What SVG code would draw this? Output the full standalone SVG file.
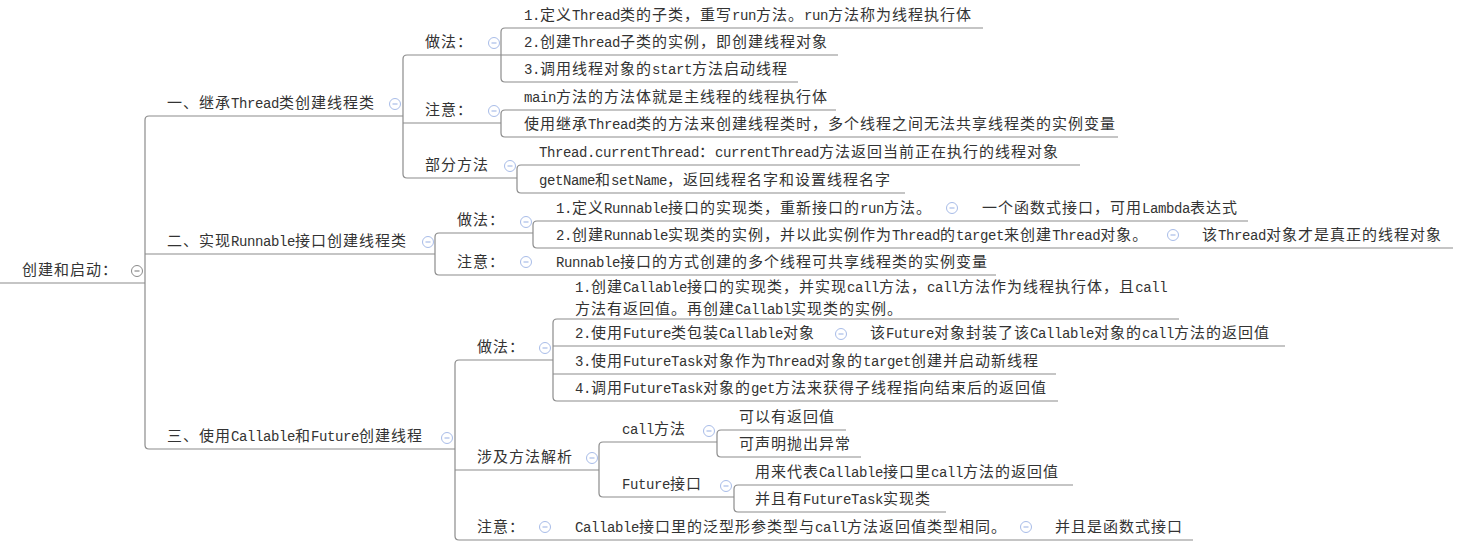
<svg xmlns="http://www.w3.org/2000/svg" width="1461" height="548" viewBox="0 0 1461 548">
<defs>
<style>
.t{font-family:"Noto Sans CJK SC","Noto Sans CJK JP",sans-serif;font-size:15px;letter-spacing:1px;fill:#333}
.e{font-family:"Liberation Mono","DejaVu Sans Mono",monospace;font-size:14px;letter-spacing:-0.4px}
.ln{fill:none;stroke:#8c8c8c;stroke-width:1.2}
</style>
<g id="tog"><circle r="5.5" fill="#fff" stroke="#a8bce8" stroke-width="1"/><line x1="-2.5" y1="0" x2="2.5" y2="0" stroke="#a8bce8" stroke-width="1.2"/></g>
<g id="togr"><circle r="5.5" fill="#fff" stroke="#8a8a8a" stroke-width="1"/><line x1="-2.5" y1="0" x2="2.5" y2="0" stroke="#8a8a8a" stroke-width="1.2"/></g>
</defs>
<rect width="1461" height="548" fill="#fff"/>

<g id="connectors">
<path class="ln" d="M0 283H145"/>
<path class="ln" d="M149 116Q145 116 145 120V445Q145 449 149 449"/>
<path class="ln" d="M149 116H403M145 254H435M149 449H455"/>
<path class="ln" d="M407 55Q403 55 403 59V174Q403 178 407 178"/>
<path class="ln" d="M407 55H501M403 123H501M407 178H517"/>
<path class="ln" d="M505 28Q501 28 501 32V78Q501 82 505 82"/>
<path class="ln" d="M505 28H983M501 55H838M505 82H798"/>
<path class="ln" d="M505 110Q501 110 501 114V133Q501 137 505 137"/>
<path class="ln" d="M505 110H836M505 137H1118"/>
<path class="ln" d="M521 165Q517 165 517 169V189Q517 193 521 193"/>
<path class="ln" d="M521 165H1080M521 193H905"/>
<path class="ln" d="M439 233Q435 233 435 237V271Q435 275 439 275"/>
<path class="ln" d="M439 233H533M439 275H996"/>
<path class="ln" d="M537 221Q533 221 533 225V244Q533 248 537 248"/>
<path class="ln" d="M537 221H1248M537 248H1453"/>
<path class="ln" d="M459 360Q455 360 455 364V536Q455 540 459 540"/>
<path class="ln" d="M459 360H553M455 470H599M459 540H1193"/>
<path class="ln" d="M557 319Q553 319 553 323V397Q553 401 557 401"/>
<path class="ln" d="M557 319H1179M553 346H1285M553 374H1056M557 401H1058"/>
<path class="ln" d="M603 442Q599 442 599 446V493Q599 497 603 497"/>
<path class="ln" d="M603 442H717M603 497H734"/>
<path class="ln" d="M721 430Q717 430 717 434V453Q717 457 721 457"/>
<path class="ln" d="M721 430H846M721 457H861"/>
<path class="ln" d="M738 485Q734 485 734 489V508Q734 512 738 512"/>
<path class="ln" d="M738 485H1073M738 512H946"/>
</g>

<g id="root"><text class="t" x="22" y="275">创建和启动：</text><use href="#togr" x="137" y="271"/></g>

<g id="n1"><text class="t" x="167" y="108">一、继承<tspan class="e">Thread</tspan>类创建线程类</text><use href="#tog" x="395" y="104"/></g>
<g id="n1-do"><text class="t" x="425" y="47">做法：</text><use href="#tog" x="494" y="43"/></g>
<g id="n1-do-1"><text class="t" x="524" y="20"><tspan class="e">1.</tspan>定义<tspan class="e">Thread</tspan>类的子类，重写<tspan class="e">run</tspan>方法。<tspan class="e">run</tspan>方法称为线程执行体</text></g>
<g id="n1-do-2"><text class="t" x="524" y="47"><tspan class="e">2.</tspan>创建<tspan class="e">Thread</tspan>子类的实例，即创建线程对象</text></g>
<g id="n1-do-3"><text class="t" x="524" y="74"><tspan class="e">3.</tspan>调用线程对象的<tspan class="e">start</tspan>方法启动线程</text></g>
<g id="n1-note"><text class="t" x="425" y="115">注意：</text><use href="#tog" x="494" y="111"/></g>
<g id="n1-note-1"><text class="t" x="524" y="102"><tspan class="e">main</tspan>方法的方法体就是主线程的线程执行体</text></g>
<g id="n1-note-2"><text class="t" x="524" y="129">使用继承<tspan class="e">Thread</tspan>类的方法来创建线程类时，多个线程之间无法共享线程类的实例变量</text></g>
<g id="n1-methods"><text class="t" x="425" y="170">部分方法</text><use href="#tog" x="510" y="166"/></g>
<g id="n1-methods-1"><text class="t" x="539" y="157"><tspan class="e">Thread.currentThread</tspan>：<tspan class="e">currentThread</tspan>方法返回当前正在执行的线程对象</text></g>
<g id="n1-methods-2"><text class="t" x="539" y="185"><tspan class="e">getName</tspan>和<tspan class="e">setName</tspan>，返回线程名字和设置线程名字</text></g>

<g id="n2"><text class="t" x="167" y="246">二、实现<tspan class="e">Runnable</tspan>接口创建线程类</text><use href="#tog" x="428" y="242"/></g>
<g id="n2-do"><text class="t" x="457" y="225">做法：</text><use href="#tog" x="526" y="222"/></g>
<g id="n2-do-1"><text class="t" x="556" y="213"><tspan class="e">1.</tspan>定义<tspan class="e">Runnable</tspan>接口的实现类，重新接口的<tspan class="e">run</tspan>方法。</text><use href="#tog" x="952" y="208"/></g>
<g id="n2-do-1a"><text class="t" x="982" y="213">一个函数式接口，可用<tspan class="e">Lambda</tspan>表达式</text></g>
<g id="n2-do-2"><text class="t" x="556" y="240"><tspan class="e">2.</tspan>创建<tspan class="e">Runnable</tspan>实现类的实例，并以此实例作为<tspan class="e">Thread</tspan>的<tspan class="e">target</tspan>来创建<tspan class="e">Thread</tspan>对象。</text><use href="#tog" x="1173" y="235"/></g>
<g id="n2-do-2a"><text class="t" x="1202" y="240">该<tspan class="e">Thread</tspan>对象才是真正的线程对象</text></g>
<g id="n2-note"><text class="t" x="457" y="267">注意：</text><use href="#tog" x="526" y="262"/></g>
<g id="n2-note-1"><text class="t" x="556" y="267"><tspan class="e">Runnable</tspan>接口的方式创建的多个线程可共享线程类的实例变量</text></g>

<g id="n3"><text class="t" x="167" y="441">三、使用<tspan class="e">Callable</tspan>和<tspan class="e">Future</tspan>创建线程</text><use href="#tog" x="447" y="438"/></g>
<g id="n3-do"><text class="t" x="477" y="352">做法：</text><use href="#tog" x="545" y="348"/></g>
<g id="n3-do-1"><text class="t" x="575" y="292"><tspan class="e">1.</tspan>创建<tspan class="e">Callable</tspan>接口的实现类，并实现<tspan class="e">call</tspan>方法，<tspan class="e">call</tspan>方法作为线程执行体，且<tspan class="e">call</tspan><tspan x="575" y="314">方法有返回值。再创建</tspan><tspan class="e">Callabl</tspan>实现类的实例。</text></g>
<g id="n3-do-2"><text class="t" x="575" y="338"><tspan class="e">2.</tspan>使用<tspan class="e">Future</tspan>类包装<tspan class="e">Callable</tspan>对象</text><use href="#tog" x="841" y="334"/></g>
<g id="n3-do-2a"><text class="t" x="870" y="338">该<tspan class="e">Future</tspan>对象封装了该<tspan class="e">Callable</tspan>对象的<tspan class="e">call</tspan>方法的返回值</text></g>
<g id="n3-do-3"><text class="t" x="575" y="366"><tspan class="e">3.</tspan>使用<tspan class="e">FutureTask</tspan>对象作为<tspan class="e">Thread</tspan>对象的<tspan class="e">target</tspan>创建并启动新线程</text></g>
<g id="n3-do-4"><text class="t" x="575" y="393"><tspan class="e">4.</tspan>调用<tspan class="e">FutureTask</tspan>对象的<tspan class="e">get</tspan>方法来获得子线程指向结束后的返回值</text></g>
<g id="n3-methods"><text class="t" x="477" y="462">涉及方法解析</text><use href="#tog" x="592" y="458"/></g>
<g id="n3-call"><text class="t" x="622" y="434"><tspan class="e">call</tspan>方法</text><use href="#tog" x="709" y="431"/></g>
<g id="n3-call-1"><text class="t" x="739" y="422">可以有返回值</text></g>
<g id="n3-call-2"><text class="t" x="739" y="449">可声明抛出异常</text></g>
<g id="n3-future"><text class="t" x="622" y="489"><tspan class="e">Future</tspan>接口</text><use href="#tog" x="726" y="486"/></g>
<g id="n3-future-1"><text class="t" x="755" y="477">用来代表<tspan class="e">Callable</tspan>接口里<tspan class="e">call</tspan>方法的返回值</text></g>
<g id="n3-future-2"><text class="t" x="755" y="504">并且有<tspan class="e">FutureTask</tspan>实现类</text></g>
<g id="n3-note"><text class="t" x="477" y="532">注意：</text><use href="#tog" x="545" y="527"/></g>
<g id="n3-note-1"><text class="t" x="575" y="532"><tspan class="e">Callable</tspan>接口里的泛型形参类型与<tspan class="e">call</tspan>方法返回值类型相同。</text><use href="#tog" x="1026" y="527"/></g>
<g id="n3-note-1a"><text class="t" x="1055" y="532">并且是函数式接口</text></g>
</svg>
